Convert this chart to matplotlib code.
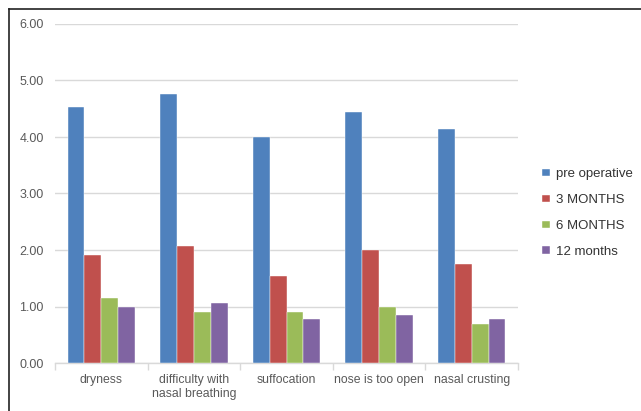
import numpy as np
import matplotlib
matplotlib.use("Agg")
import matplotlib.pyplot as plt
from matplotlib.lines import Line2D

categories = ["dryness", "difficulty with\nnasal breathing", "suffocation",
              "nose is too open", "nasal crusting"]
series = ["pre operative", "3 MONTHS", "6 MONTHS", "12 months"]
pre_op = [4.53, 4.76, 4.00, 4.45, 4.15]
m3 = [1.91, 2.07, 1.54, 2.00, 1.75]
m6 = [1.15, 0.91, 0.91, 0.99, 0.69]
m12 = [0.99, 1.07, 0.77, 0.85, 0.77]
yticks = [0, 1, 2, 3, 4, 5, 6]

colors = ["#4F81BD", "#C0504D", "#9BBB59", "#8064A2"]
text_col = "#595959"

plt.rcParams["font.family"] = ["Liberation Sans", "DejaVu Sans"]

fig = plt.figure(figsize=(6.41, 4.11), dpi=100)
ax = fig.add_axes([55 / 641, 1 - 363 / 411, (518 - 55) / 641, (363 - 24) / 411])

x = np.arange(len(categories))
w = 0.1825
for i, (vals, name) in enumerate(zip([pre_op, m3, m6, m12], series)):
    ax.bar(x + (i - 1.5) * w, vals, w, color=colors[i], label=name,
           edgecolor="white", linewidth=0.3, zorder=3)

ax.set_xlim(-0.5, len(categories) - 0.5)
ax.set_ylim(0, 6)
ax.set_yticks(yticks)
ax.set_yticklabels([f"{v:.2f}" for v in yticks], color=text_col, fontsize=9)
ax.yaxis.grid(True, color="#D9D9D9", linewidth=1, zorder=0)
ax.tick_params(axis="y", length=0, pad=8)

ax.set_xticks(x)
ax.set_xticklabels(categories, color=text_col, fontsize=8.8, linespacing=1.25)
ax.tick_params(axis="x", length=0, pad=8)
ax.set_xticks(np.arange(-0.5, len(categories)), minor=True)
ax.tick_params(axis="x", which="minor", length=5, color="#D9D9D9", width=1)

for s in ["top", "right", "left"]:
    ax.spines[s].set_visible(False)
ax.spines["bottom"].set_color("#D9D9D9")
ax.spines["bottom"].set_linewidth(1)

ax.legend(loc="upper left", bbox_to_anchor=(1.04, 0.59), frameon=False,
          fontsize=9.5, labelcolor="#333333", handlelength=0.6, handleheight=0.5,
          handletextpad=0.45, labelspacing=1.05, borderaxespad=0)

# figure frame (top and left lines, as in the cropped original)
fig.add_artist(Line2D([9 / 641, 1], [1 - 9 / 411, 1 - 9 / 411],
                      color="#222222", linewidth=1.2, transform=fig.transFigure))
fig.add_artist(Line2D([9 / 641, 9 / 641], [0, 1 - 9 / 411],
                      color="#222222", linewidth=1.2, transform=fig.transFigure))

fig.savefig("out.png", dpi=100)
